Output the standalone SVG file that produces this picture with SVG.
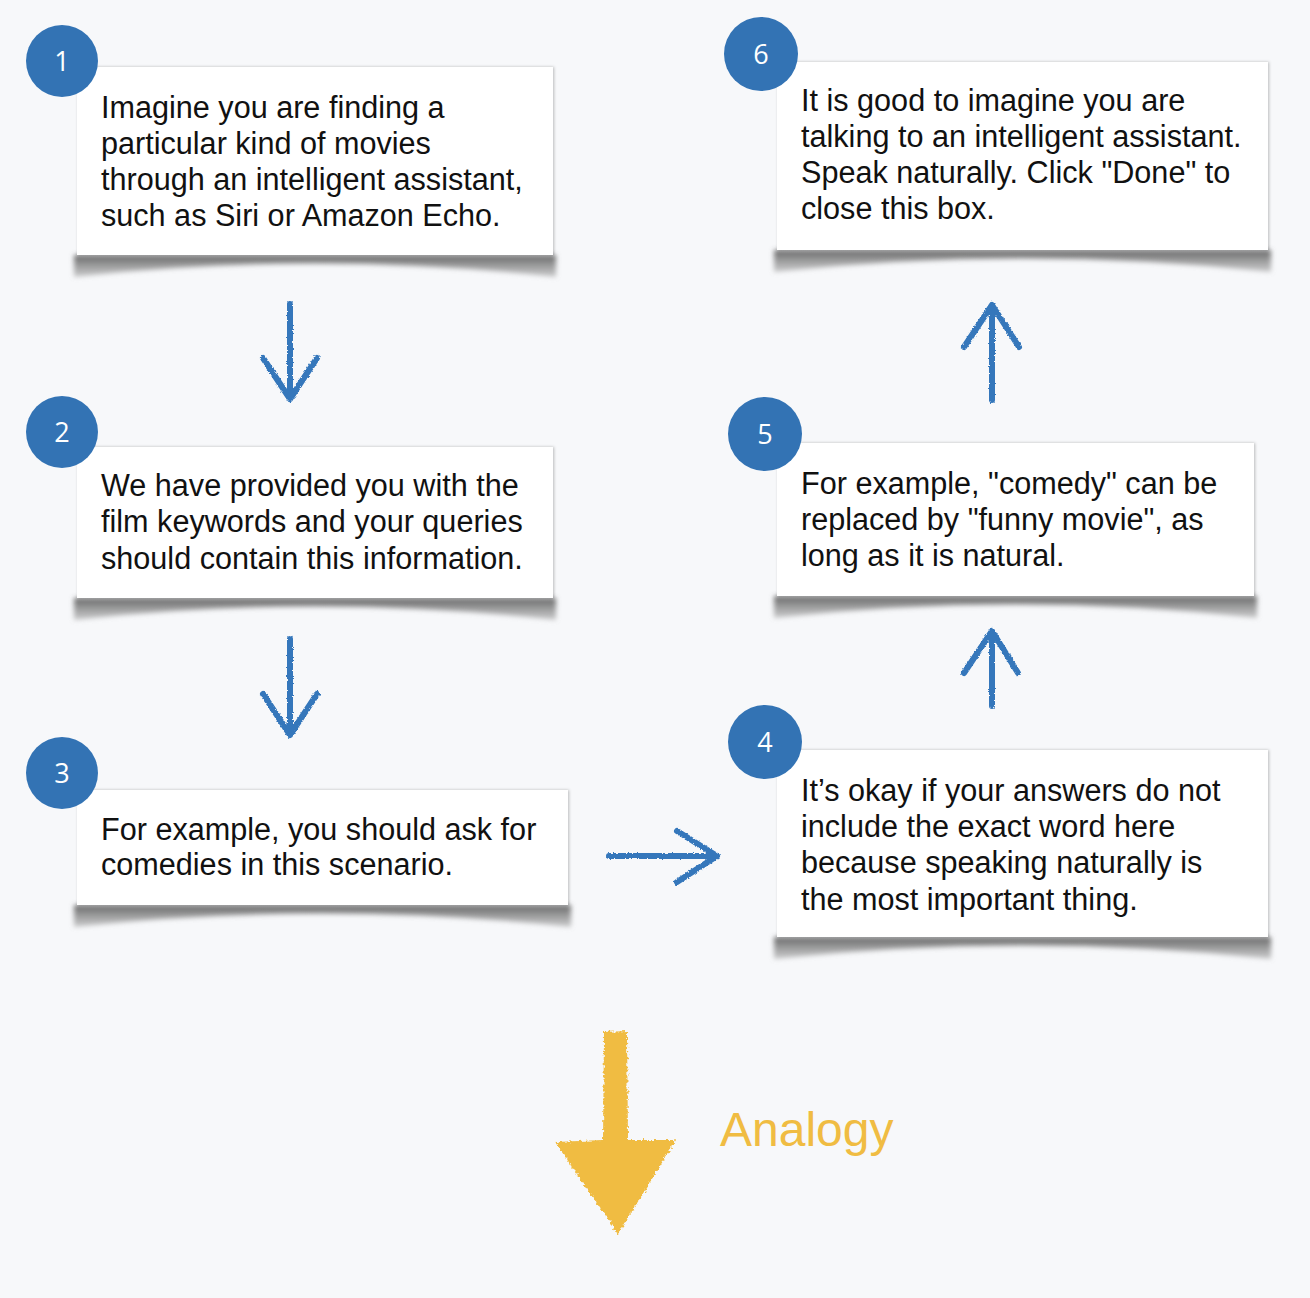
<svg xmlns="http://www.w3.org/2000/svg" width="1310" height="1298" viewBox="0 0 1310 1298">
<defs>
<style>
.bg{fill:#f7f8fa}
.box{fill:#ffffff;filter:url(#side)}
.shadow{fill:url(#sg);filter:url(#blur)}
.num{fill:#3373b4}
.numt{fill:#ffffff;font-family:"Open Sans","Liberation Sans",sans-serif;font-size:27px;text-anchor:middle}
.txt{fill:#111111;font-family:"Liberation Sans",Arial,sans-serif;font-size:30.6px}
.arr{fill:none;stroke:#3577bb;stroke-width:6;stroke-linecap:round;stroke-linejoin:round;filter:url(#rough)}
.ana{fill:#f0bc42;font-family:"Liberation Sans",Arial,sans-serif;font-size:48px}
</style>
<linearGradient id="sg" x1="0" y1="0" x2="0" y2="1">
<stop offset="0" stop-color="#555" stop-opacity="0.9"/>
<stop offset="1" stop-color="#999" stop-opacity="0.5"/>
</linearGradient>
<filter id="blur" x="-10%" y="-100%" width="120%" height="300%"><feGaussianBlur stdDeviation="2.5"/></filter>
<filter id="side" x="-5%" y="-10%" width="110%" height="120%"><feDropShadow dx="1" dy="0" stdDeviation="1.5" flood-color="#000" flood-opacity="0.25"/></filter>
<filter id="rough" x="-30%" y="-30%" width="160%" height="160%">
<feTurbulence type="fractalNoise" baseFrequency="0.6" numOctaves="2" seed="3" result="n"/>
<feDisplacementMap in="SourceGraphic" in2="n" scale="3" xChannelSelector="R" yChannelSelector="G"/>
</filter>
<filter id="roughY" x="-30%" y="-30%" width="160%" height="160%">
<feTurbulence type="fractalNoise" baseFrequency="0.35" numOctaves="2" seed="7" result="n"/>
<feDisplacementMap in="SourceGraphic" in2="n" scale="6" xChannelSelector="R" yChannelSelector="G"/>
</filter>
</defs>
<rect class="bg" x="0" y="0" width="1310" height="1298"/>

<g id="connectors">
<path class="arr" d="M290,304 L290,398 M263,358 L290,399 L317,358"/>
<path class="arr" d="M290,639 L290,733 M263,694 L290,735 L317,694"/>
<path class="arr" d="M609,856 L716,856 M677,831 L717,856 L677,882"/>
<path class="arr" d="M992,706 L992,632 M964,673 L992,631 L1018,673"/>
<path class="arr" d="M992,400 L992,307 M964,347 L992,305 L1019,347"/>
</g>

<g id="node1">
<path class="shadow" d="M74,255 L556,255 L556,277 Q315,250 74,277 Z"/>
<rect class="box" x="77" y="67" width="476" height="188"/>
<circle class="num" cx="62" cy="61" r="36"/>
<text class="numt" x="62" y="71">1</text>
<text class="txt"><tspan x="101" y="118">Imagine you are finding a</tspan><tspan x="101" y="154">particular kind of movies</tspan><tspan x="101" y="190">through an intelligent assistant,</tspan><tspan x="101" y="226">such as Siri or Amazon Echo.</tspan></text>
</g>

<g id="node2">
<path class="shadow" d="M74,598 L556,598 L556,620 Q315,593 74,620 Z"/>
<rect class="box" x="77" y="447" width="476" height="151"/>
<circle class="num" cx="62" cy="432" r="36"/>
<text class="numt" x="62" y="442">2</text>
<text class="txt"><tspan x="101" y="496">We have provided you with the</tspan><tspan x="101" y="532">film keywords and your queries</tspan><tspan x="101" y="569">should contain this information.</tspan></text>
</g>

<g id="node3">
<path class="shadow" d="M74,905 L571,905 L571,927 Q322,900 74,927 Z"/>
<rect class="box" x="77" y="790" width="491" height="115"/>
<circle class="num" cx="62" cy="773" r="36"/>
<text class="numt" x="62" y="783">3</text>
<text class="txt"><tspan x="101" y="840">For example, you should ask for</tspan><tspan x="101" y="875">comedies in this scenario.</tspan></text>
</g>

<g id="node4">
<path class="shadow" d="M774,937 L1271,937 L1271,959 Q1022,932 774,959 Z"/>
<rect class="box" x="777" y="750" width="491" height="187"/>
<circle class="num" cx="765" cy="742" r="37"/>
<text class="numt" x="765" y="752">4</text>
<text class="txt"><tspan x="801" y="801">It’s okay if your answers do not</tspan><tspan x="801" y="837">include the exact word here</tspan><tspan x="801" y="873">because speaking naturally is</tspan><tspan x="801" y="910">the most important thing.</tspan></text>
</g>

<g id="node5">
<path class="shadow" d="M774,596 L1257,596 L1257,618 Q1015,591 774,618 Z"/>
<rect class="box" x="777" y="443" width="477" height="153"/>
<circle class="num" cx="765" cy="434" r="37"/>
<text class="numt" x="765" y="444">5</text>
<text class="txt"><tspan x="801" y="494">For example, "comedy" can be</tspan><tspan x="801" y="530">replaced by "funny movie", as</tspan><tspan x="801" y="566">long as it is natural.</tspan></text>
</g>

<g id="node6">
<path class="shadow" d="M774,250 L1271,250 L1271,272 Q1022,245 774,272 Z"/>
<rect class="box" x="777" y="62" width="491" height="188"/>
<circle class="num" cx="761" cy="54" r="37"/>
<text class="numt" x="761" y="64">6</text>
<text class="txt"><tspan x="801" y="111">It is good to imagine you are</tspan><tspan x="801" y="147">talking to an intelligent assistant.</tspan><tspan x="801" y="183">Speak naturally. Click "Done" to</tspan><tspan x="801" y="219">close this box.</tspan></text>
</g>

<g id="analogy">
<path d="M604,1032 L627,1031 L628,1140 L676,1140 L618,1234 L555,1142 L603,1140 Z" fill="#f0bc42" filter="url(#roughY)"/>
<text class="ana" x="720" y="1146">Analogy</text>
</g>
</svg>
